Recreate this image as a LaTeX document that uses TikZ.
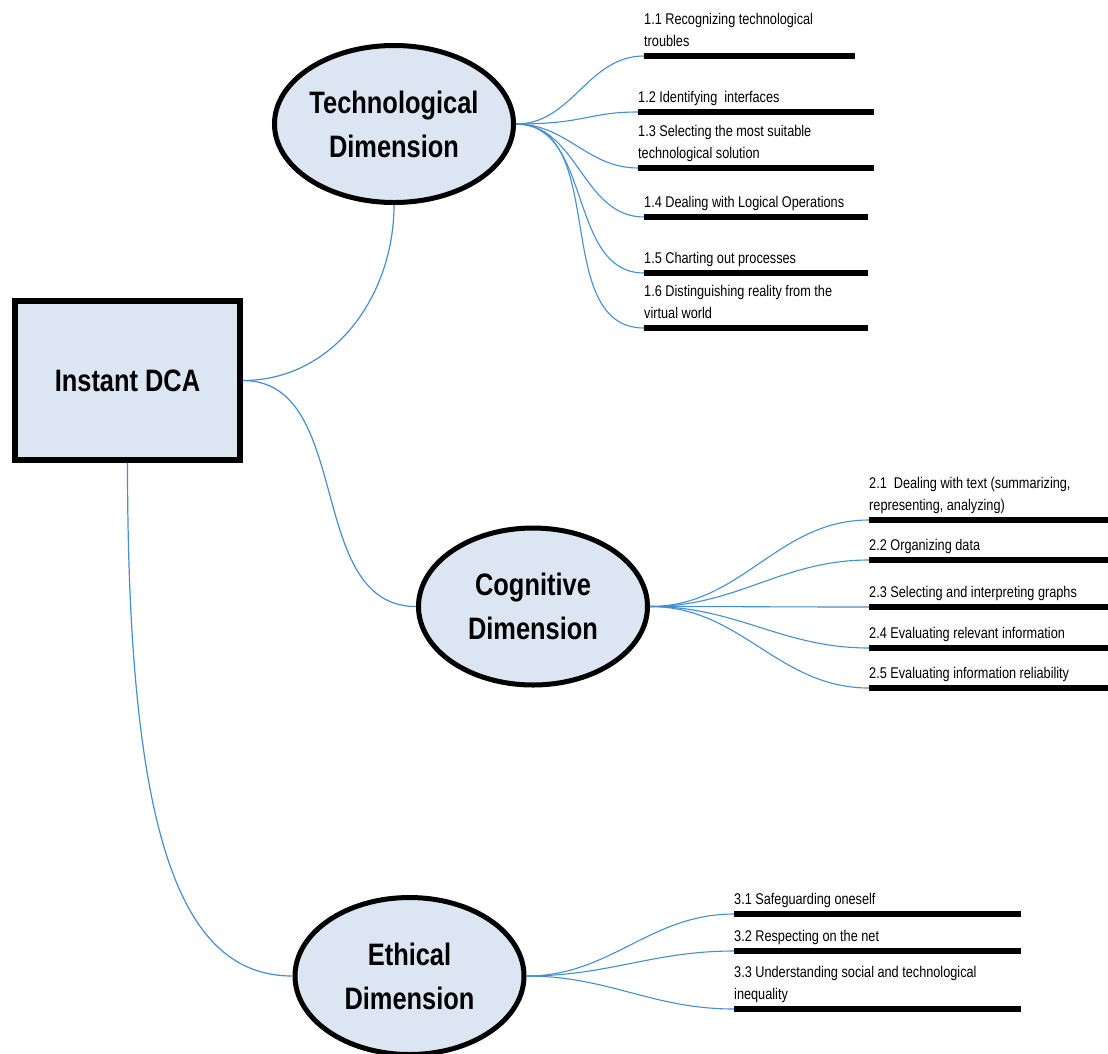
\documentclass[tikz,border=0pt]{standalone}
\usepackage{fontspec}
\setmainfont{Liberation Sans}[FakeStretch=0.82]
\usepackage{tikz}
\usetikzlibrary{shapes.geometric, positioning}

\definecolor{dimfill}{RGB}{220,230,242}
\definecolor{linkblue}{RGB}{70,142,210}

\begin{document}
\begin{tikzpicture}[
  x=1pt, y=-1pt,
  rootnode/.style={draw, rectangle, line width=5.5pt, fill=dimfill, minimum width=225pt, minimum height=159pt, inner sep=0pt, font=\fontsize{31}{44}\selectfont\bfseries, align=center},
  dimnode/.style={draw, ellipse, line width=5pt, fill=dimfill, minimum width=229pt, minimum height=157pt, inner sep=0pt, font=\fontsize{31}{44}\selectfont\bfseries, align=center},
  bar/.style={fill=black, rectangle, inner sep=0pt, minimum height=6pt, anchor=west},
  lbl/.style={inner sep=0pt, align=left, font=\fontsize{15.5}{22}\selectfont, execute at end node=\strut},
  link/.style={linkblue, line width=1.2pt},
  branch/.style={linkblue, line width=1.1pt}
]
\useasboundingbox (0,0) rectangle (1108,1053);

% Root and the three dimensions
\node[rootnode] (DCA)  at (127.5,380.5) {Instant DCA};
\node[dimnode]  (Tech) at (394,124)     {Technological\\Dimension};
\node[dimnode]  (Cog)  at (533,606.5)   {Cognitive\\Dimension};
\node[dimnode]  (Eth)  at (409.5,976)   {Ethical\\Dimension};

% Technological items
\node[bar, minimum width=211pt] (b11) at (644,56)  {};
\node[bar, minimum width=236pt] (b12) at (638,112) {};
\node[bar, minimum width=236pt] (b13) at (638,168) {};
\node[bar, minimum width=224pt] (b14) at (644,217) {};
\node[bar, minimum width=224pt] (b15) at (644,273) {};
\node[bar, minimum width=224pt] (b16) at (644,328) {};
\node[lbl] (t11) [above right=0pt and 0pt of b11.north west] {1.1 Recognizing technological\\troubles};
\node[lbl] (t12) [above right=0pt and 0pt of b12.north west] {1.2 Identifying~ interfaces};
\node[lbl] (t13) [above right=0pt and 0pt of b13.north west] {1.3 Selecting the most suitable\\technological solution};
\node[lbl] (t14) [above right=0pt and 0pt of b14.north west] {1.4 Dealing with Logical Operations};
\node[lbl] (t15) [above right=0pt and 0pt of b15.north west] {1.5 Charting out processes};
\node[lbl] (t16) [above right=0pt and 0pt of b16.north west] {1.6 Distinguishing reality from the\\virtual world};

% Cognitive items
\node[bar, minimum width=250pt] (b21) at (869,520) {};
\node[bar, minimum width=250pt] (b22) at (869,560) {};
\node[bar, minimum width=250pt] (b23) at (869,607) {};
\node[bar, minimum width=250pt] (b24) at (869,648) {};
\node[bar, minimum width=250pt] (b25) at (869,688) {};
\node[lbl] (t21) [above right=0pt and 0pt of b21.north west] {2.1~ Dealing with text (summarizing,\\representing, analyzing)};
\node[lbl] (t22) [above right=0pt and 0pt of b22.north west] {2.2 Organizing data};
\node[lbl] (t23) [above right=0pt and 0pt of b23.north west] {2.3 Selecting and interpreting graphs};
\node[lbl] (t24) [above right=0pt and 0pt of b24.north west] {2.4 Evaluating relevant information};
\node[lbl] (t25) [above right=0pt and 0pt of b25.north west] {2.5 Evaluating information reliability};

% Ethical items
\node[bar, minimum width=287pt] (b31) at (734,914)  {};
\node[bar, minimum width=287pt] (b32) at (734,951)  {};
\node[bar, minimum width=287pt] (b33) at (734,1009) {};
\node[lbl] (t31) [above right=0pt and 0pt of b31.north west] {3.1 Safeguarding oneself};
\node[lbl] (t32) [above right=0pt and 0pt of b32.north west] {3.2 Respecting on the net};
\node[lbl] (t33) [above right=0pt and 0pt of b33.north west] {3.3 Understanding social and technological\\inequality};

% Links from the root
\draw[link] (DCA.east)  to[out=0, in=-90] (Tech.south);
\draw[link] (DCA.east)  to[out=0, in=180] (Cog.west);
\draw[link] (DCA.south) .. controls +(0,380) and +(-110,0) .. (Eth.west);

% Branches
\draw[branch] (Tech.east) .. controls +(70,0) and +(-50,0) .. (b12.west);
\foreach \b in {b11,b13,b14,b15,b16}
  \draw[branch] (Tech.east) to[out=0, in=180] (\b.west);
\foreach \b in {b21,b22,b23,b24,b25}
  \draw[branch] (Cog.east) to[out=0, in=180] (\b.west);
\foreach \b in {b31,b32,b33}
  \draw[branch] (Eth.east) to[out=0, in=180] (\b.west);
\end{tikzpicture}
\end{document}
